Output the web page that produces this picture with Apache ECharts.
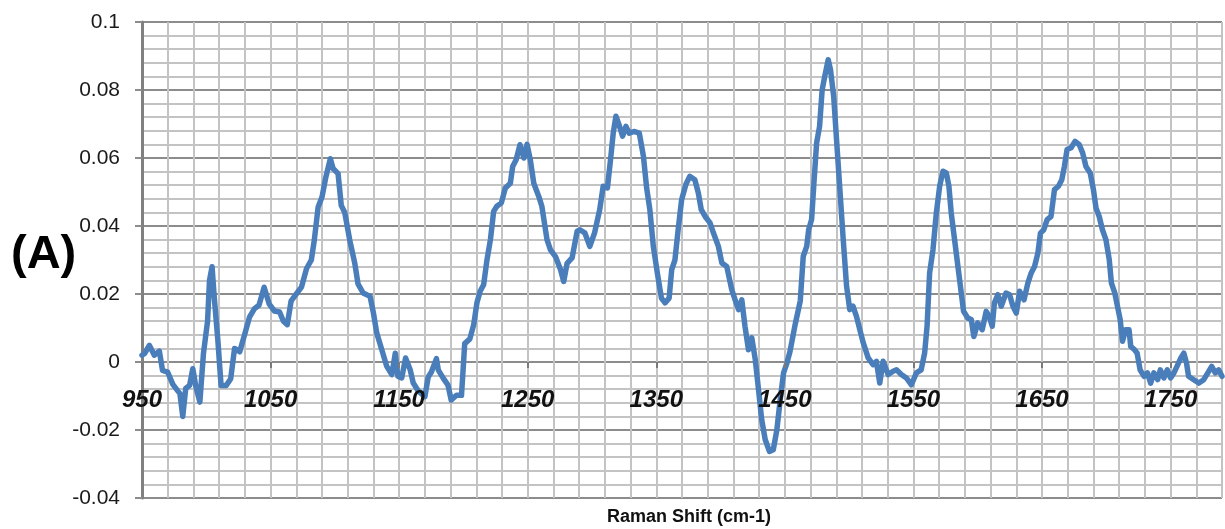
<!DOCTYPE html>
<html>
<head>
<meta charset="utf-8">
<script src="https://cdn.jsdelivr.net/npm/echarts@6/dist/echarts.min.js"></script>
<style>
  html, body { margin: 0; padding: 0; background: #ffffff; }
  #chart { width: 1225px; height: 529px; }
</style>
</head>
<body>
<div id="chart"></div>
<script>
// Raman shift (cm-1) of each sampled point of the spectrum
const ramanShift = [
  950, 952, 955.7, 959.6, 963.5, 966, 970, 974, 977.8, 979.5, 981.7, 984, 987, 989.5, 992, 995, 997.8,
  1001, 1002.5, 1004.5, 1006, 1009, 1011.5, 1015.5, 1019, 1022, 1026, 1030, 1033.6, 1037.5, 1041, 1045,
  1049, 1053, 1057, 1060, 1063, 1066, 1070, 1074, 1078, 1081.7, 1084, 1087, 1090, 1093, 1096.5, 1098.6,
  1102.5, 1105, 1107.7, 1111.6, 1115.5, 1118, 1122, 1127.4, 1130, 1132.6, 1136.5, 1140.4, 1144.3, 1147,
  1149, 1152, 1155, 1158.6, 1161, 1165, 1170, 1172.6, 1175, 1179, 1180.5, 1184.5, 1188, 1190.5, 1194.6,
  1198.5, 1201, 1205, 1208, 1210.5, 1213, 1215.7, 1218.3, 1221, 1223.5, 1226, 1229.5, 1232.6, 1236.5,
  1238.3, 1241, 1244, 1247, 1249.5, 1252, 1254.7, 1258.6, 1261, 1265, 1267.7, 1271.6, 1275.5, 1278,
  1280.6, 1284.5, 1288.4, 1290.5, 1294.4, 1298.3, 1302, 1306, 1308.7, 1312, 1314.4, 1316.5, 1318.6, 1321,
  1323.8, 1326.4, 1329, 1332.6, 1336.8, 1340, 1342.5, 1345, 1347.7, 1350.8, 1354, 1356.8, 1360, 1362,
  1364.5, 1367, 1369.7, 1373, 1376, 1380, 1382.7, 1385, 1388, 1391.8, 1394.4, 1398.3, 1401, 1404.8,
  1408.7, 1411.3, 1414, 1416.5, 1419, 1421.7, 1424.3, 1427, 1429.5, 1432, 1434.7, 1438, 1441, 1443.8,
  1446.4, 1449, 1451.6, 1454, 1458, 1462, 1464.3, 1467, 1468.5, 1470.8, 1472.6, 1474.7, 1477, 1479, 1481,
  1483.7, 1485.5, 1488, 1490.2, 1492.8, 1495.4, 1498, 1500.5, 1503, 1505.7, 1508.3, 1511, 1514.8, 1518.6,
  1521.2, 1523.8, 1526.4, 1530.3, 1534.2, 1536.8, 1540.6, 1544.5, 1548.4, 1552.3, 1556, 1558.7, 1560.6,
  1562.6, 1565.2, 1567.8, 1570.4, 1573, 1575.6, 1577.6, 1579.4, 1582, 1584.6, 1587.2, 1589, 1592.4, 1595,
  1597, 1600, 1603.5, 1606.6, 1609, 1611.3, 1613, 1615.7, 1618.3, 1622, 1624.8, 1627.4, 1630, 1632.6,
  1636, 1639, 1641.6, 1644.2, 1646.8, 1648.8, 1651.4, 1654, 1657, 1659.7, 1662.8, 1665.4, 1667.4, 1669.5,
  1672.6, 1675.7, 1679, 1681.6, 1684.2, 1687.5, 1690, 1692, 1694.5, 1697, 1699.7, 1702.3, 1704, 1706.6,
  1708.7, 1710.8, 1712.6, 1715, 1717.7, 1719, 1722, 1724, 1726.3, 1729.4, 1732, 1734.5, 1737, 1740, 1742,
  1744.8, 1747.4, 1750, 1752.6, 1755, 1758, 1760.3, 1762.4, 1764, 1768, 1772, 1775.8, 1779, 1782, 1784.8,
  1787.4, 1790
];

// Intensity at each Raman shift
const intensity = [
  0.002, 0.0025, 0.0049, 0.002, 0.0032, -0.0025, -0.003, -0.0066, -0.0085, -0.0093, -0.016, -0.0078,
  -0.0069, -0.002, -0.0074, -0.0118, 0.0025, 0.012, 0.024, 0.028, 0.020, 0.0064, -0.0069, -0.0069,
  -0.0049, 0.004, 0.003, 0.0083, 0.0132, 0.0157, 0.0167, 0.022, 0.017, 0.015, 0.0147, 0.012, 0.011,
  0.018, 0.020, 0.022, 0.0275, 0.030, 0.0358, 0.0456, 0.0485, 0.0544, 0.0598, 0.0569, 0.0554, 0.046,
  0.044, 0.0358, 0.029, 0.023, 0.0203, 0.0193, 0.0144, 0.0085, 0.0036, -0.0013, -0.0037, 0.0026,
  -0.0042, -0.0047, 0.0012, -0.0023, -0.0062, -0.0086, -0.0102, -0.0044, -0.003, 0.001, -0.0024,
  -0.0049, -0.0068, -0.0112, -0.0098, -0.0098, 0.0054, 0.0068, 0.011, 0.0174, 0.0208, 0.0227, 0.030,
  0.036, 0.0443, 0.0458, 0.0468, 0.0512, 0.0526, 0.0575, 0.0595, 0.0639, 0.060, 0.064, 0.0595, 0.0526,
  0.0487, 0.0458, 0.036, 0.033, 0.031, 0.0272, 0.0237, 0.029, 0.0306, 0.0384, 0.0389, 0.038, 0.034,
  0.038, 0.0448, 0.0517, 0.0512, 0.0595, 0.0673, 0.0723, 0.0698, 0.0664, 0.0693, 0.0673, 0.0678,
  0.0673, 0.0605, 0.0512, 0.0448, 0.034, 0.0262, 0.0188, 0.0174, 0.0188, 0.0272, 0.030, 0.0389, 0.0477,
  0.0522, 0.0546, 0.0536, 0.0497, 0.0448, 0.0428, 0.0409, 0.038, 0.034, 0.0291, 0.0281, 0.0213, 0.0183,
  0.0154, 0.0183, 0.0105, 0.0036, 0.0071, 0.0007, -0.0081, -0.017, -0.0228, -0.0263, -0.0258, -0.0199,
  -0.011, -0.0032, -0.0003, 0.0031, 0.011, 0.018, 0.0311, 0.034, 0.0389, 0.0419, 0.0526, 0.0644, 0.0693,
  0.080, 0.084, 0.0889, 0.086, 0.078, 0.0654, 0.0507, 0.036, 0.0223, 0.0154, 0.0164, 0.0134, 0.0095,
  0.0056, 0.0012, -0.0008, 0.0002, -0.0062, 0.0002, -0.0037, -0.0027, -0.0023, -0.0037, -0.0047,
  -0.0067, -0.0032, -0.0023, 0.0026, 0.0105, 0.0262, 0.033, 0.0438, 0.0517, 0.0561, 0.0556, 0.0517,
  0.0438, 0.036, 0.0281, 0.0203, 0.0149, 0.0129, 0.0125, 0.0075, 0.0115, 0.0095, 0.0149, 0.0134,
  0.0105, 0.0174, 0.0198, 0.0164, 0.0203, 0.0198, 0.0164, 0.0144, 0.0208, 0.0183, 0.0232, 0.0262,
  0.0281, 0.032, 0.0379, 0.0389, 0.0419, 0.0428, 0.0507, 0.0517, 0.0536, 0.0575, 0.0625, 0.063, 0.0649,
  0.0639, 0.0615, 0.0575, 0.0556, 0.0507, 0.0453, 0.0428, 0.0389, 0.036, 0.0301, 0.0232, 0.0203,
  0.0164, 0.0125, 0.0061, 0.0095, 0.0095, 0.0046, 0.0036, 0.0026, -0.0023, -0.0042, -0.0032, -0.0062,
  -0.0032, -0.0052, -0.0023, -0.0047, -0.0023, -0.0047, -0.0032, -0.0013, 0.0012, 0.0026, -0.0003,
  -0.0042, -0.0052, -0.0062, -0.0052, -0.0032, -0.0013, -0.0032, -0.0023, -0.0042
];

// Labelled positions on the Raman shift axis
const xTickLabels = [950, 1050, 1150, 1250, 1350, 1450, 1550, 1650, 1750];

const seriesData = ramanShift.map((x, i) => [x, intensity[i]]);

const chart = echarts.init(document.getElementById('chart'), null, { renderer: 'canvas' });

const majorGrey = '#8c8c8c';
const minorGrey = '#c3c3c3';

// plot area: top 22, height 476; zero intensity sits 340 px below the top
const gridTop = 22, gridBottom = 31, plotHeight = 529 - gridTop - gridBottom;
const zeroShift = -(plotHeight - plotHeight * 0.1 / 0.14);

chart.setOption({
  animation: false,
  backgroundColor: '#ffffff',
  grid: {
    left: 142, right: 3, top: gridTop, bottom: gridBottom,
    containLabel: false,
    outerBoundsMode: 'none'
  },
  xAxis: [
    {
      // labelled axis, lifted from the bottom edge up to the zero line;
      // drawn above the spectrum so the numbers stay readable
      type: 'value',
      position: 'bottom',
      offset: zeroShift,
      z: 10,
      min: 950,
      max: 1790,
      interval: 20,
      axisLine: { show: false, onZero: false },
      axisTick: {
        show: true,
        customValues: xTickLabels,
        length: 6,
        lineStyle: { color: '#7a7a7a', width: 2 }
      },
      axisLabel: {
        show: true,
        customValues: xTickLabels,
        margin: 26,
        fontFamily: 'Liberation Sans',
        fontSize: 24,
        fontWeight: 'bold',
        fontStyle: 'italic',
        color: '#111111',
        formatter: v => String(v)
      },
      splitLine: { show: false }
    },
    {
      // vertical grid every 20 cm-1
      type: 'value',
      position: 'top',
      min: 950,
      max: 1790,
      interval: 20,
      axisLine: { show: false, onZero: false },
      axisTick: { show: false },
      axisLabel: { show: false },
      splitLine: { show: true, lineStyle: { color: minorGrey, width: 2 } }
    }
  ],
  yAxis: {
    type: 'value',
    min: -0.04,
    max: 0.1,
    interval: 0.02,
    axisLine: { show: true, onZero: false, lineStyle: { color: '#808080', width: 3 } },
    axisTick: { show: true, length: 7, lineStyle: { color: majorGrey, width: 2 } },
    axisLabel: {
      margin: 22,
      fontFamily: 'Liberation Sans',
      fontSize: 21,
      color: '#1a1a1a',
      formatter: v => String(parseFloat(v.toFixed(3)))
    },
    splitLine: { show: true, lineStyle: { color: majorGrey, width: 2 } },
    minorTick: { show: false, splitNumber: 5 },
    minorSplitLine: { show: true, lineStyle: { color: minorGrey, width: 2 } }
  },
  graphic: [
    {
      type: 'text',
      left: 11,
      top: 232,
      style: {
        text: '(A)',
        fontFamily: 'Liberation Sans',
        fontSize: 47,
        fontWeight: 'bold',
        fill: '#000000'
      }
    },
    {
      type: 'text',
      x: 689,
      y: 517,
      style: {
        text: 'Raman Shift (cm-1)',
        fontFamily: 'Liberation Sans',
        fontSize: 18,
        fontWeight: 'bold',
        fill: '#111111',
        align: 'center',
        verticalAlign: 'middle'
      }
    }
  ],
  series: [
    {
      type: 'line',
      xAxisIndex: 0,
      data: seriesData,
      showSymbol: false,
      smooth: false,
      lineStyle: { color: '#4a7ebb', width: 5.5, join: 'round', cap: 'round' },
      z: 5
    }
  ]
});
</script>
</body>
</html>
